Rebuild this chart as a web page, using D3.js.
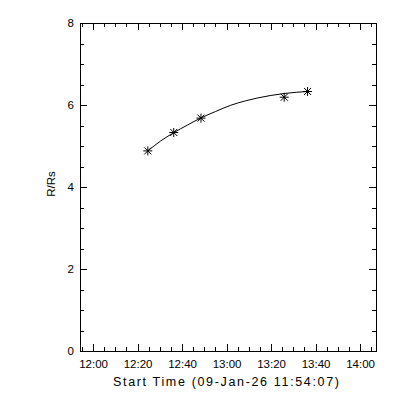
<!DOCTYPE html>
<html>
<head>
<meta charset="utf-8">
<script src="https://cdn.jsdelivr.net/npm/d3@7"></script>
<style>
  body { margin: 0; background: #fff; }
  text { font-family: "Liberation Sans", Arial, sans-serif; fill: #000; }
</style>
</head>
<body>
<div class="canva"></div>
<script>
// measured points (time, R/Rs)
const obsTimes = ["12:24:36", "12:36:15", "12:48:30", "13:25:54", "13:36:24"];
const obsValues = [4.88, 5.33, 5.68, 6.19, 6.33];

// fit curve
const fitTimes = ["12:24:36", "12:30:18", "12:36:06", "12:42:24", "12:48:18", "12:55:00",
                  "13:01:42", "13:08:24", "13:13:48", "13:19:36", "13:25:54", "13:31:18", "13:36:24"];
const fitValues = [4.88, 5.12, 5.32, 5.51, 5.68, 5.84, 5.99, 6.10, 6.17, 6.23, 6.28, 6.31, 6.33];

const xStart = "11:54:07", xEnd = "14:07:10";
const yTicks = [0, 2, 4, 6, 8];

const day = "2026-01-09T";
const t = s => d3.isoParse(day + s);

const W = 400, H = 400;
const pL = 80, pR = 376, pT = 23, pB = 351;

const svg = d3.select(".canva").append("svg")
    .attr("width", W)
    .attr("height", H);

const x = d3.scaleTime().domain([t(xStart), t(xEnd)]).range([pL, pR]);
const y = d3.scaleLinear().domain([0, 8]).range([pB, pT]);

const majX = d3.timeMinute.every(20).range(t("12:00:00"), t(xEnd));
const minX = d3.timeMinute.every(5).range(t(xStart), t(xEnd));
const minY = d3.range(0, 8.01, 0.5);

function strip(g) {
  g.select(".domain").remove();
  g.selectAll("line").attr("stroke", "#000").attr("shape-rendering", "crispEdges");
  g.selectAll("text").attr("font-size", 11.5).attr("font-family", "Liberation Sans, Arial, sans-serif");
}

// bottom
svg.append("g").attr("transform", `translate(0,${pB})`)
  .call(d3.axisBottom(x).tickValues(minX).tickSize(-4).tickFormat("")).call(strip);
svg.append("g").attr("transform", `translate(0,${pB})`)
  .call(d3.axisBottom(x).tickValues(majX).tickSize(-7).tickPadding(9).tickFormat(d3.timeFormat("%H:%M"))).call(strip);
// top
svg.append("g").attr("transform", `translate(0,${pT})`)
  .call(d3.axisTop(x).tickValues(minX).tickSize(-4).tickFormat("")).call(strip);
svg.append("g").attr("transform", `translate(0,${pT})`)
  .call(d3.axisTop(x).tickValues(majX).tickSize(-7).tickFormat("")).call(strip);
// left
svg.append("g").attr("transform", `translate(${pL},0)`)
  .call(d3.axisLeft(y).tickValues(minY).tickSize(-4).tickFormat("")).call(strip);
svg.append("g").attr("transform", `translate(${pL},0)`)
  .call(d3.axisLeft(y).tickValues(yTicks).tickSize(-7).tickPadding(6).tickFormat(d3.format("d"))).call(strip);
// right
svg.append("g").attr("transform", `translate(${pR},0)`)
  .call(d3.axisRight(y).tickValues(minY).tickSize(-4).tickFormat("")).call(strip);
svg.append("g").attr("transform", `translate(${pR},0)`)
  .call(d3.axisRight(y).tickValues(yTicks).tickSize(-7).tickFormat("")).call(strip);

// frame
svg.append("rect")
    .attr("x", pL).attr("y", pT)
    .attr("width", pR - pL).attr("height", pB - pT)
    .attr("fill", "none").attr("stroke", "#000")
    .attr("shape-rendering", "crispEdges");

// fit line
const fit = fitTimes.map((s, i) => [t(s), fitValues[i]]);
svg.append("path")
    .datum(fit)
    .attr("fill", "none")
    .attr("stroke", "#000")
    .attr("stroke-width", 1)
    .attr("d", d3.line().x(d => x(d[0])).y(d => y(d[1])).curve(d3.curveMonotoneX));

// asterisks
const obs = obsTimes.map((s, i) => [t(s), obsValues[i]]);
const star = svg.append("g").selectAll("g").data(obs).join("g")
    .attr("transform", d => `translate(${x(d[0])},${y(d[1])})`);
const r = 4.5, q = 3.5;
[[-r, 0, r, 0], [0, -r, 0, r], [-q, -q, q, q], [-q, q, q, -q]].forEach(s => {
  star.append("line")
      .attr("x1", s[0]).attr("y1", s[1]).attr("x2", s[2]).attr("y2", s[3])
      .attr("stroke", "#000").attr("stroke-width", 1);
});

// titles
svg.append("text")
    .text("Start Time (09-Jan-26 11:54:07)")
    .attr("text-anchor", "middle")
    .attr("font-size", 12.5)
    .attr("x", 226)
    .attr("y", 386)
    .attr("textLength", 226)
    .attr("lengthAdjust", "spacing");

svg.append("text")
    .text("R/Rs")
    .attr("text-anchor", "middle")
    .attr("font-size", 11.5)
    .attr("transform", "translate(55,184) rotate(-90)");
</script>
</body>
</html>
